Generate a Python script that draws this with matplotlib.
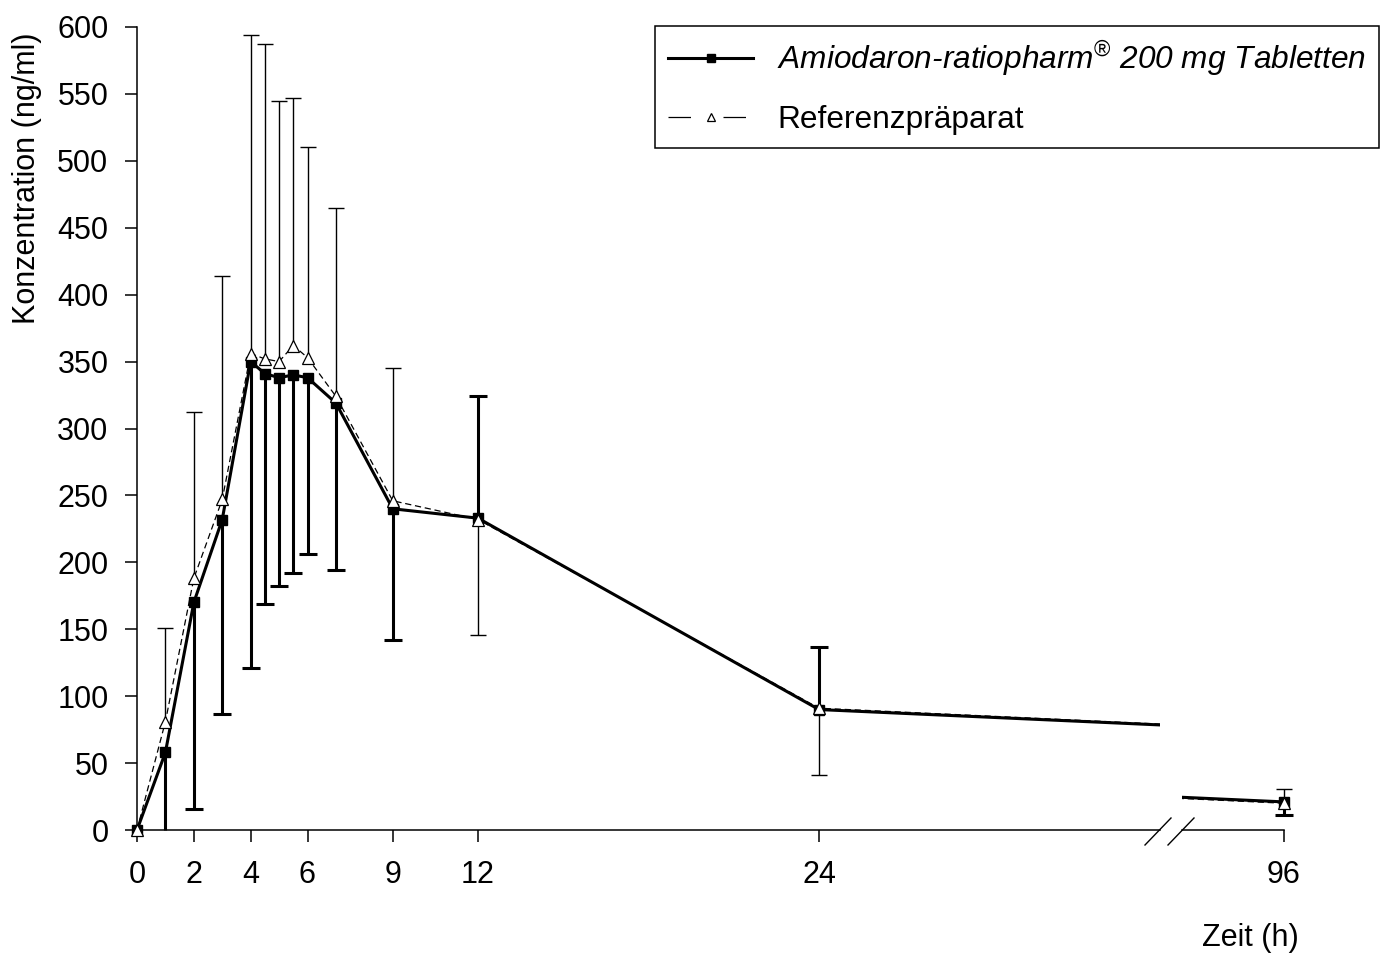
import numpy as np
import matplotlib
matplotlib.use("Agg")
import matplotlib.pyplot as plt
from matplotlib.lines import Line2D

plt.rcParams["font.family"] = ["Liberation Sans", "DejaVu Sans"]
plt.rcParams["mathtext.fontset"] = "custom"
plt.rcParams["mathtext.rm"] = "Liberation Sans"
plt.rcParams["mathtext.it"] = "Liberation Sans:italic"

# sampling times (h)
times = [0, 1, 2, 3, 4, 4.5, 5, 5.5, 6, 7, 9, 12, 24, 96]

# test product (filled squares, thick line) - mean and SD
test_mean = [0, 58, 170, 232, 350, 341, 338, 340, 338, 319, 240, 233, 90, 21]
test_sd = [0, 75, 154, 145, 229, 172, 156, 148, 132, 125, 98, 91, 47, 10]
test_dir = [-1, -1, -1, -1, -1, -1, -1, -1, -1, -1, -1, 1, 1, -1]

# reference product (open triangles, dashed line)
ref_mean = [0, 81, 188, 247, 356, 352, 350, 362, 353, 324, 246, 232, 91, 20]
ref_sd = [0, 70, 124, 167, 238, 235, 195, 185, 157, 141, 99, 86, 50, 11]
ref_dir = [1, 1, 1, 1, 1, 1, 1, 1, 1, 1, 1, -1, -1, 1]

xticks_left = [0, 2, 4, 6, 9, 12, 24]
yticks = list(range(0, 601, 50))

W, H = 1389, 958
FS = 22
FS_LEG = 22.8


def draw_bars(ax, x, mean, sd, dirs, lw, cap):
    for xi, m, s, d in zip(x, mean, sd, dirs):
        if s == 0:
            continue
        end = m + d * s
        ax.plot([xi, xi], [m, max(end, 0)], color="black", lw=lw, zorder=2,
                solid_capstyle="butt", clip_on=False)
        if end >= 0:
            ax.plot([xi], [end], marker="_", ms=cap, mew=lw, color="black",
                    zorder=2, clip_on=False)


fig = plt.figure(figsize=(W / 100, H / 100), dpi=100)
ax1 = fig.add_axes([137 / W, 1 - 830 / H, (1160 - 137) / W, (830 - 27) / H])
ax2 = fig.add_axes([1182 / W, 1 - 830 / H, (1284 - 1182) / W, (830 - 27) / H])

px_per_h = (819 - 137) / 24
ax1.set_xlim(0, (1160 - 137) / px_per_h)
ax2.set_xlim(96 - (1284 - 1182) / px_per_h, 96)
for ax in (ax1, ax2):
    ax.set_ylim(0, 600)
    ax.patch.set_alpha(0)
    ax.spines["top"].set_visible(False)
    ax.spines["right"].set_visible(False)
    ax.spines["bottom"].set_linewidth(1.1)

t = np.array(times)
left = t <= 24
right = t == 96

for ax, sel in ((ax1, left), (ax2, right)):
    xs = t[sel]
    draw_bars(ax, xs, np.array(test_mean)[sel], np.array(test_sd)[sel],
              np.array(test_dir)[sel], 2.2, 13)
    draw_bars(ax, xs, np.array(ref_mean)[sel], np.array(ref_sd)[sel],
              np.array(ref_dir)[sel], 1.0, 11)
    ax.plot(times, test_mean, color="black", lw=2.2, zorder=3)
    ax.plot(times, ref_mean, color="black", lw=0.9, dashes=(5, 3), zorder=4)
    ax.plot(xs, np.array(test_mean)[sel], ls="none", marker="s", ms=6.5,
            color="black", zorder=5, clip_on=False)
    ax.plot(xs, np.array(ref_mean)[sel], ls="none", marker="^", ms=8,
            mfc="white", mec="black", mew=0.9, zorder=6, clip_on=False)

ax1.spines["left"].set_linewidth(1.1)
ax1.set_xticks(xticks_left)
ax1.set_yticks(yticks)
ax1.tick_params(axis="both", direction="out", length=8.6, width=1.1,
                labelsize=FS)
ax1.tick_params(axis="x", pad=13)
ax1.tick_params(axis="y", pad=12)

ax2.spines["left"].set_visible(False)
ax2.set_yticks([])
ax2.set_xticks([96])
ax2.tick_params(axis="x", direction="out", length=8.6, width=1.1,
                labelsize=FS, pad=13)

# axis break marks
for x0 in (1145, 1168):
    fig.add_artist(Line2D([x0 / W, (x0 + 26) / W], [1 - 845 / H, 1 - 818 / H],
                          color="black", lw=1.0))

fig.text(27 / W, 1 - 178 / H, "Konzentration (ng/ml)", rotation=90,
         ha="center", va="center", fontsize=FS)
fig.text(1250 / W, 1 - 938 / H, "Zeit (h)", ha="center", va="center",
         fontsize=FS)

h_test = Line2D([], [], color="black", lw=2.2, marker="s", ms=6)
h_ref = Line2D([], [], color="black", lw=0.9, dashes=(18, 26), marker="^",
               ms=6, mfc="white", mew=0.9)
leg = fig.legend([h_test, h_ref],
                 ["Amiodaron-ratiopharm$^{®}$ 200 mg Tabletten",
                  "Referenzpräparat"],
                 loc="upper right", bbox_to_anchor=(1379 / W, 1 - 26 / H),
                 bbox_transform=fig.transFigure, fontsize=FS_LEG, frameon=True,
                 fancybox=False, framealpha=1, edgecolor="black",
                 borderaxespad=0, handlelength=2.7, handletextpad=0.75,
                 borderpad=0.4, labelspacing=0.85, numpoints=1)
leg.get_frame().set_linewidth(1.1)
leg.get_texts()[0].set_fontstyle("italic")

fig.savefig("out.png", dpi=100)
